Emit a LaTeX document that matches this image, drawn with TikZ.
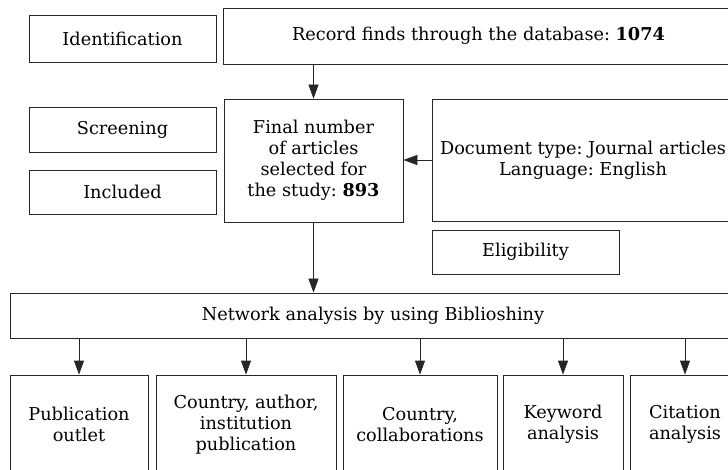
\documentclass[tikz,border=0pt]{standalone}
\usepackage{fontspec}
\setmainfont{DejaVu Serif}
\usetikzlibrary{arrows.meta}
\tikzset{
  box/.style={draw=black!85, line width=0.75pt, inner sep=2pt, align=center, font=\fontsize{17.7}{21}\selectfont\frenchspacing},
  arr/.style={draw=black!85, line width=0.75pt, -{Triangle[length=14pt,width=10pt]}}
}
\begin{document}
\begin{tikzpicture}[x=1pt,y=-1pt]
\useasboundingbox (0,0) rectangle (728,470);
\clip (0,0) rectangle (728,470);
\node[box, minimum width=187pt, minimum height=47pt] (ident) at (122.5,38.5) {Identification};
\node[box, minimum width=511pt, minimum height=56pt] (record) at (478.5,36) {Record finds through the database: \textbf{1074}};
\node[box, minimum width=187pt, minimum height=45pt] (screen) at (122.5,129.5) {Screening};
\node[box, minimum width=187pt, minimum height=44pt] (incl) at (122.5,192) {Included};
\node[box, minimum width=179pt, minimum height=123pt] (final) at (313.5,160.5) {Final number\\of articles\\selected for\\the study: \textbf{893}};
\node[box, minimum width=302pt, minimum height=122pt] (doc) at (583,160) {Document type: Journal articles\\Language: English};
\node[box, minimum width=187pt, minimum height=44pt] (elig) at (525.5,252) {Eligibility};
\node[box, minimum width=726pt, minimum height=45pt] (net) at (373,315.5) {Network analysis by using Biblioshiny};
\node[box, minimum width=138pt, minimum height=99pt] (b1) at (79,424.5) {Publication\\outlet};
\node[box, minimum width=180pt, minimum height=99pt] (b2) at (246,424.5) {Country, author,\\institution\\publication};
\node[box, minimum width=154pt, minimum height=99pt] (b3) at (420,424.5) {Country,\\collaborations};
\node[box, minimum width=120pt, minimum height=99pt] (b4) at (563,424.5) {Keyword\\analysis};
\node[box, minimum width=110pt, minimum height=99pt] (b5) at (685,424.5) {Citation\\analysis};
\draw[arr] (final.north |- record.south) -- (final.north);
\draw[arr] (doc.west) -- (doc.west -| final.east);
\draw[arr] (final.south) -- (final.south |- net.north);
\foreach \b in {b1,b2,b3,b4,b5}
  \draw[arr] (\b.north |- net.south) -- (\b.north);
\end{tikzpicture}
\end{document}
